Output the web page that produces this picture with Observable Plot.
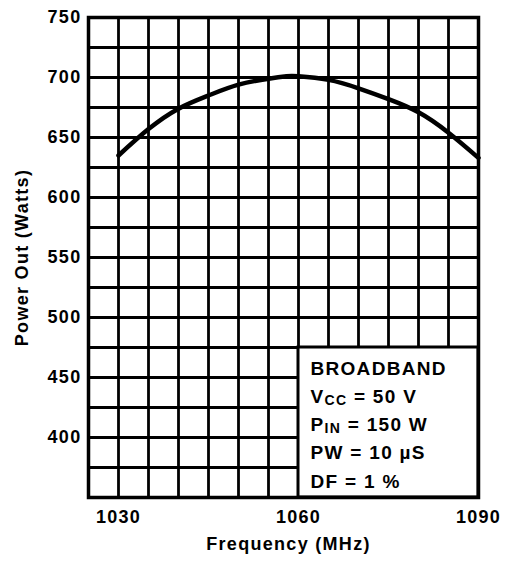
<!DOCTYPE html>
<html><head><meta charset="utf-8">
<script src="https://cdn.jsdelivr.net/npm/d3@7"></script>
<script src="https://cdn.jsdelivr.net/npm/@observablehq/plot@0.6"></script>
<style>
html,body{margin:0;padding:0;background:#fff;}
</style></head><body><div id="chart"></div>
<script>
const frequency = [1030, 1035, 1040, 1045, 1050, 1055, 1058, 1060, 1065, 1070, 1075, 1080, 1085, 1090];
const powerOut  = [635, 657, 674, 685, 694, 699, 701, 701, 698, 691, 682, 671, 654, 633];
const xTicks = [1030, 1060, 1090];
const yTicks = [400, 450, 500, 550, 600, 650, 700, 750];
const xGrid = [1025, 1030, 1035, 1040, 1045, 1050, 1055, 1060, 1065, 1070, 1075, 1080, 1085, 1090];
const yGrid = [350, 375, 400, 425, 450, 475, 500, 525, 550, 575, 600, 625, 650, 675, 700, 725, 750];
const legendLines = [
  ["BROADBAND", "", ""],
  ["V", "CC", " = 50 V"],
  ["P", "IN", " = 150 W"],
  ["PW = 10 \u00b5S", "", ""],
  ["DF = 1 %", "", ""]
];
const legendFreq = [1060, 1090];
const legendPower = [350, 475];
const xLabel = "Frequency (MHz)";
const yLabel = "Power Out (Watts)";

const data = frequency.map((f, i) => ({f, p: powerOut[i]}));
const font = "'Liberation Sans', Arial, sans-serif";

const legendMarks = legendLines.map((l, i) =>
  Plot.text([l], {
    x: () => legendFreq[0], y: () => legendPower[1],
    text: d => d.join(""),
    dx: 12, dy: 21 + i * 28.3,
    textAnchor: "start", lineAnchor: "middle",
    fontSize: 19, fontWeight: "bold", fill: "black"
  })
);

const chart = Plot.plot({
  width: 509, height: 497 + 65,
  marginLeft: 88, marginRight: 31, marginTop: 17, marginBottom: 65,
  style: {fontFamily: font, fontSize: "18px", fontWeight: "bold", color: "black", background: "white", letterSpacing: "1.3px"},
  x: {domain: [1025, 1090], ticks: xTicks, tickSize: 0, tickPadding: 13, tickFormat: d => String(d), label: null},
  y: {domain: [350, 750], ticks: yTicks, tickSize: 0, tickPadding: 7, tickFormat: d => String(d), label: null},
  marks: [
    Plot.ruleX(xGrid, {stroke: "black", strokeWidth: 2.8}),
    Plot.ruleY(yGrid, {stroke: "black", strokeWidth: 2.8}),
    Plot.line(data, {x: "f", y: "p", curve: "natural", stroke: "black", strokeWidth: 4.5}),
    Plot.rect([0], {x1: () => legendFreq[0], x2: () => legendFreq[1], y1: () => legendPower[0], y2: () => legendPower[1], fill: "white", stroke: "black", strokeWidth: 3}),
    ...legendMarks,
    Plot.frame({stroke: "black", strokeWidth: 3.5}),
    Plot.text([xLabel], {frameAnchor: "bottom", textAnchor: "middle", dy: 52, dx: 5, fontSize: 18, fontWeight: "bold"}),
    Plot.text([yLabel], {frameAnchor: "left", textAnchor: "middle", dx: -66, rotate: -90, fontSize: 18, fontWeight: "bold"})
  ]
});

// subscripts in legend
chart.querySelectorAll("text").forEach(t => {
  const line = legendLines.find(l => l[1] && t.textContent === l.join(""));
  if (!line) return;
  const ns = "http://www.w3.org/2000/svg";
  while (t.firstChild) t.removeChild(t.firstChild);
  const a = document.createElementNS(ns, "tspan"); a.textContent = line[0];
  const b = document.createElementNS(ns, "tspan"); b.textContent = line[1];
  b.setAttribute("font-size", "14"); b.setAttribute("dy", "2");
  const c = document.createElementNS(ns, "tspan"); c.textContent = line[2];
  c.setAttribute("dy", "-2");
  t.append(a, b, c);
});

document.getElementById("chart").appendChild(chart);
</script>
</body></html>
